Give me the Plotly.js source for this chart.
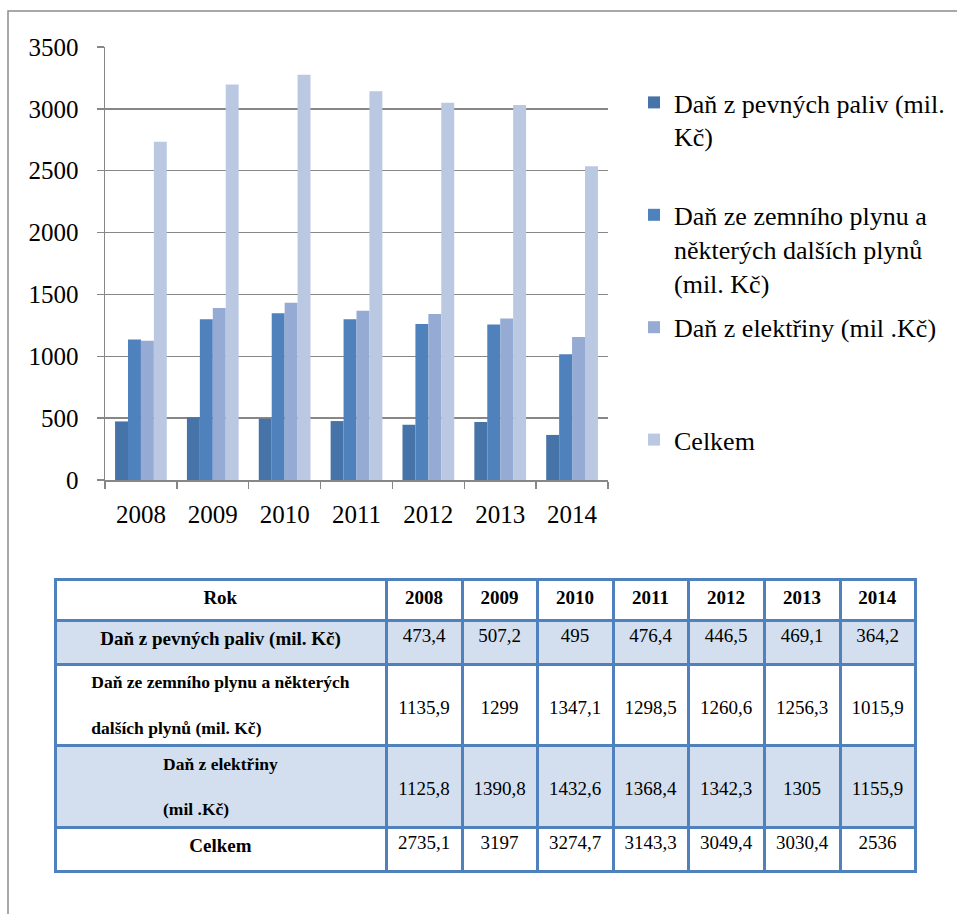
<!DOCTYPE html>
<html>
<head>
<meta charset="utf-8">
<script src="https://cdn.plot.ly/plotly-3.0.1.min.js"></script>
<style>html,body{margin:0;padding:0;background:#fff;}</style>
</head>
<body>
<div id="chart" style="width:957px;height:914px;"></div>
<script>
// ---- data ----
const years = ['2008', '2009', '2010', '2011', '2012', '2013', '2014'];
const seriesNames = [
  'Daň z pevných paliv (mil.<br>Kč)<br>\u00a0',
  'Daň ze zemního plynu a<br>některých dalších plynů<br>(mil. Kč)',
  'Daň z elektřiny (mil .Kč)<br>\u00a0<br>\u00a0',
  'Celkem<br>\u00a0<br>\u00a0'
];
const solidFuel = [473.4, 507.2, 495, 476.4, 446.5, 469.1, 364.2];
const naturalGas = [1135.9, 1299, 1347.1, 1298.5, 1260.6, 1256.3, 1015.9];
const electricity = [1125.8, 1390.8, 1432.6, 1368.4, 1342.3, 1305, 1155.9];
const total = [2735.1, 3197, 3274.7, 3143.3, 3049.4, 3030.4, 2536];
const tableHeaderLabel = 'Rok';
const tableRowLabels = [
  'Daň z pevných paliv (mil. Kč)',
  'Daň ze zemního plynu a některých<br>\u00a0<br>dalších plynů (mil. Kč)',
  'Daň z elektřiny<br>\u00a0<br>(mil .Kč)',
  'Celkem'
];
const yTicks = [0, 500, 1000, 1500, 2000, 2500, 3000, 3500];

// ---- styles ----
const colors = ['#4673A8', '#4F81BD', '#95ABD3', '#BAC8E2'];
const serif = '"Liberation Serif", "Times New Roman", serif';
const axisGray = '#878787';
const W = 957, H = 914;

const seriesData = [solidFuel, naturalGas, electricity, total];
const traces = seriesData.map((vals, i) => ({
  type: 'bar',
  x: years,
  y: vals,
  name: seriesNames[i],
  legendgroup: 'g' + i,
  marker: {color: colors[i], line: {width: 0}},
  xaxis: 'x', yaxis: 'y',
  hoverinfo: 'x+y'
}));

// table built from the same arrays
const fmt = v => String(v).replace('.', ',');
const twoLineRows = [1, 2];
const colValues = [tableRowLabels.map(s => '<b>' + s + '</b>')];
years.forEach((yr, j) => {
  colValues.push(seriesData.map((arr, r) => (twoLineRows.includes(r) ? '\u00a0<br>' : '') + fmt(arr[j])));
});
const rowFill = ['#D3DFEE', '#FFFFFF', '#D3DFEE', '#FFFFFF'];
const labelSizes = tableRowLabels.map((s, r) => twoLineRows.includes(r) ? 17.5 : 19);
const cellSizes = [labelSizes].concat(years.map(() => 19));

traces.push({
  type: 'table',
  domain: {x: [55 / W, 916 / W], y: [0, 1 - 579 / H]},
  columnwidth: [331, 76, 75, 76, 75, 76, 76, 75],
  header: {
    values: [['<b>' + tableHeaderLabel + '</b>']].concat(years.map(y => ['<b>' + y + '</b>'])),
    align: 'center',
    height: 41,
    fill: {color: '#FFFFFF'},
    line: {color: '#4F81BD', width: 3},
    font: {family: serif, size: 19, color: '#000'}
  },
  cells: {
    values: colValues,
    align: 'center',
    height: 44,
    fill: {color: [rowFill]},
    line: {color: '#4F81BD', width: 3},
    font: {family: serif, size: cellSizes, color: '#000'}
  }
});

const layout = {
  width: W, height: H,
  autosize: false,
  margin: {l: 0, r: 0, t: 0, b: 0, pad: 0},
  paper_bgcolor: '#fff',
  plot_bgcolor: '#fff',
  barmode: 'group',
  bargap: 0.28,
  bargroupgap: 0,
  font: {family: serif, color: '#000'},
  xaxis: {
    type: 'category',
    domain: [105 / W, 608 / W],
    showline: true, linecolor: axisGray, linewidth: 1.5,
    ticks: 'outside', tickson: 'boundaries', ticklen: 7, tickcolor: axisGray, tickwidth: 1.5,
    tickfont: {family: serif, size: 25, color: '#000'},
    ticklabelstandoff: 11,
    showgrid: false, zeroline: false, fixedrange: true
  },
  yaxis: {
    domain: [1 - 480 / H, 1 - 47 / H],
    range: [0, 3500],
    tickvals: yTicks,
    showline: true, linecolor: axisGray, linewidth: 1.5,
    showgrid: true, gridcolor: axisGray, gridwidth: 1.5,
    ticks: 'outside', ticklen: 7, tickcolor: axisGray, tickwidth: 1.5,
    tickfont: {family: serif, size: 25, color: '#000'},
    ticklabelstandoff: 13,
    zeroline: false, fixedrange: true
  },
  showlegend: true,
  legend: {
    x: 634 / W, xanchor: 'left',
    y: 1 - 79 / H, yanchor: 'top',
    valign: 'top',
    traceorder: 'grouped',
    tracegroupgap: 8,
    font: {family: serif, size: 26, color: '#000'},
    bgcolor: 'rgba(0,0,0,0)',
    borderwidth: 0
  },
  shapes: [{
    type: 'rect', xref: 'paper', yref: 'paper',
    x0: 8 / W, x1: 1.05, y0: -0.05, y1: 1 - 11 / H,
    line: {color: '#8C8C8C', width: 1.5},
    fillcolor: 'rgba(0,0,0,0)'
  }]
};

Plotly.newPlot('chart', traces, layout, {displayModeBar: false, staticPlot: true});
</script>
</body>
</html>
